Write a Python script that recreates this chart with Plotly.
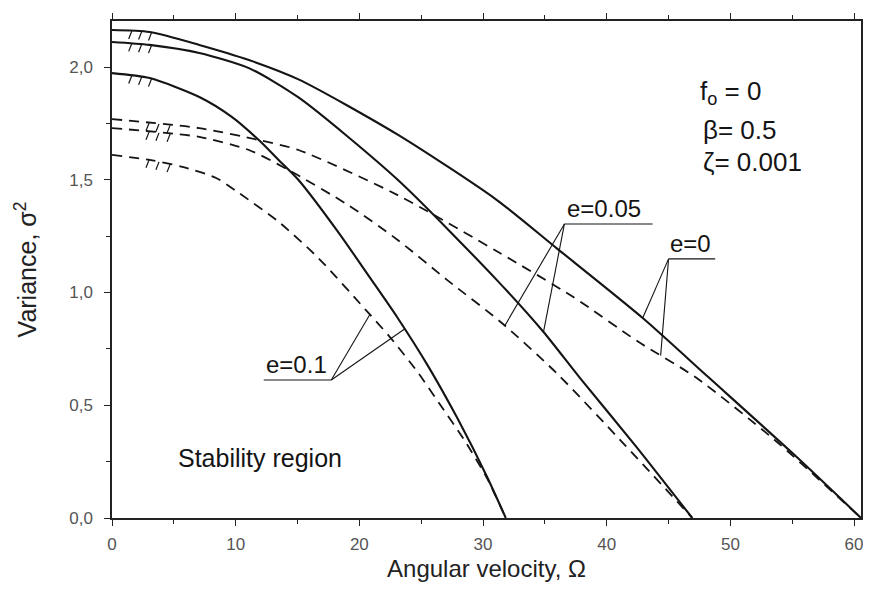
import numpy as np
import plotly.graph_objects as go

# ---------------- data ----------------
# solid curves
s0_x = [0, 3.05, 7.06, 11.07, 15.08, 23.10, 31.12, 35.94, 42.91, 48.21, 55.19, 60.56]
s0_y = [2.164, 2.155, 2.098, 2.031, 1.945, 1.700, 1.410, 1.197, 0.887, 0.625, 0.279, 0.0]

s05_x = [0, 3.05, 7.06, 11.07, 15.08, 23.10, 31.12, 34.89, 37.78, 42.35, 46.92]
s05_y = [2.111, 2.098, 2.062, 1.995, 1.865, 1.500, 1.055, 0.825, 0.625, 0.319, 0.0]

s1_x = [0, 3.05, 7.06, 9.71, 11.87, 13.47, 15.08, 18.29, 20.70, 23.10, 25.51, 27.92, 30.33, 31.84]
s1_y = [1.973, 1.951, 1.867, 1.778, 1.676, 1.588, 1.499, 1.268, 1.078, 0.887, 0.678, 0.443, 0.182, 0.0]

# dashed curves
d0_x = [0, 7.06, 11.87, 15.08, 23.10, 31.36, 37.30, 42.59, 47.16, 53.58, 60.56]
d0_y = [1.769, 1.729, 1.676, 1.632, 1.432, 1.175, 0.980, 0.780, 0.625, 0.346, 0.0]

d05_x = [0, 7.06, 11.07, 14.28, 19.09, 23.10, 27.11, 31.52, 35.94, 41.55, 46.92]
d05_y = [1.729, 1.690, 1.632, 1.543, 1.388, 1.233, 1.055, 0.865, 0.643, 0.319, 0.0]

d1_x = [0, 3.05, 5.70, 8.42, 10.27, 13.48, 16.68, 20.53, 22.54, 24.71, 26.55, 28.48, 30.32, 31.84]
d1_y = [1.610, 1.588, 1.557, 1.508, 1.441, 1.313, 1.153, 0.922, 0.798, 0.647, 0.501, 0.346, 0.177, 0.0]

x_ticks = [0, 10, 20, 30, 40, 50, 60]
x_labels = ["0", "10", "20", "30", "40", "50", "60"]
y_ticks = [0.0, 0.5, 1.0, 1.5, 2.0]
y_labels = ["0,0", "0,5", "1,0", "1,5", "2,0"]

labels_e = ["e=0", "e=0.05", "e=0.1"]

# ---------------- figure ----------------
FONT = "Liberation Sans, Arial, sans-serif"
INK = "#141414"

fig = go.Figure()

def curve(x, y, dash):
    fig.add_trace(go.Scatter(
        x=x, y=y, mode="lines", line_shape="spline",
        line=dict(color=INK, width=2.1 if dash is None else 1.8,
                  dash=dash if dash else "solid", smoothing=0.7),
        showlegend=False, hoverinfo="skip"))

for cx, cy in [(s0_x, s0_y), (s05_x, s05_y), (s1_x, s1_y)]:
    curve(cx, cy, None)
for cx, cy in [(d0_x, d0_y), (d05_x, d05_y), (d1_x, d1_y)]:
    curve(cx, cy, "10px,7px")

# small hatch marks near the start of each curve
hx, hy = [], []
def hatch(cx, cy, xs):
    for x0 in xs:
        y0 = float(np.interp(x0, cx, cy))
        hx.extend([x0, x0 - 0.25, None])
        hy.extend([y0, y0 - 0.035, None])

for cx, cy in [(s0_x, s0_y), (s05_x, s05_y), (s1_x, s1_y)]:
    hatch(cx, cy, [1.6, 2.4, 3.2])
for cx, cy in [(d0_x, d0_y), (d05_x, d05_y), (d1_x, d1_y)]:
    hatch(cx, cy, [3.0, 3.8, 4.7])
fig.add_trace(go.Scatter(x=hx, y=hy, mode="lines",
                         line=dict(color=INK, width=1.2),
                         showlegend=False, hoverinfo="skip"))

# leader lines with labels
def leader(label, corner, end_x, tail_x, curves, tx, ty):
    cx0, cy0 = corner
    lx, ly = [tail_x, cx0], [cy0, cy0]
    for (ex, (px, py)) in zip(end_x, curves):
        lx.extend([None, cx0, ex])
        ly.extend([None, cy0, float(np.interp(ex, px, py))])
    fig.add_trace(go.Scatter(x=lx, y=ly, mode="lines",
                             line=dict(color=INK, width=1.1),
                             showlegend=False, hoverinfo="skip"))
    fig.add_annotation(x=tx, y=ty, text=label, showarrow=False,
                       xanchor="center", yanchor="bottom",
                       font=dict(family=FONT, size=24, color=INK))

leader(labels_e[0], (45.0, 1.149), [42.91, 44.36], 48.77,
       [(s0_x, s0_y), (d0_x, d0_y)], 46.76, 1.148)
leader(labels_e[1], (36.58, 1.304), [34.89, 31.76], 43.71,
       [(s05_x, s05_y), (d05_x, d05_y)], 39.78, 1.303)
leader(labels_e[2], (17.73, 0.612), [23.66, 20.85], 12.27,
       [(s1_x, s1_y), (d1_x, d1_y)], 14.92, 0.611)

# text annotations
fig.add_annotation(x=12.0, y=0.266, text="Stability region", showarrow=False,
                   xanchor="center", yanchor="middle",
                   font=dict(family=FONT, size=25, color=INK))
for txt, yy, xx in [("f<sub>o</sub> = 0", 1.885, 47.4),
                    ("β= 0.5", 1.721, 47.6),
                    ("ζ= 0.001", 1.579, 47.6)]:
    fig.add_annotation(x=xx, y=yy, text=txt, showarrow=False,
                       xanchor="left", yanchor="middle",
                       font=dict(family=FONT, size=26, color=INK))

axis_common = dict(showline=True, linecolor="#222", linewidth=1.5,
                   ticks="outside", ticklen=6, tickwidth=1.2, tickcolor="#222",
                   showgrid=False, zeroline=False, automargin=False,
                   tickfont=dict(family=FONT, size=17, color="#555"))

fig.update_xaxes(range=[0, 60.56], tickvals=x_ticks, ticktext=x_labels,
                 mirror="ticks", ticklabelstandoff=4,
                 minor=dict(dtick=5, ticks="outside", ticklen=4, tickcolor="#222"),
                 title=dict(text="Angular velocity, Ω", standoff=20,
                            font=dict(family=FONT, size=24, color="#222")),
                 **axis_common)
fig.update_yaxes(range=[0, 2.204], tickvals=y_ticks, ticktext=y_labels,
                 mirror=True, ticklabelstandoff=8,
                 minor=dict(dtick=0.25, ticks="outside", ticklen=4, tickcolor="#222"),
                 title=dict(text="Variance, σ<sup>2</sup>", standoff=25,
                            font=dict(family=FONT, size=25, color="#222")),
                 **axis_common)

# the page adds an 8px body margin, so the figure is sized/offset to compensate
fig.update_layout(width=863, height=574,
                  margin=dict(l=104, r=10, t=13, b=64, autoexpand=False),
                  paper_bgcolor="white", plot_bgcolor="white",
                  showlegend=False)

fig.write_html("out.html")
